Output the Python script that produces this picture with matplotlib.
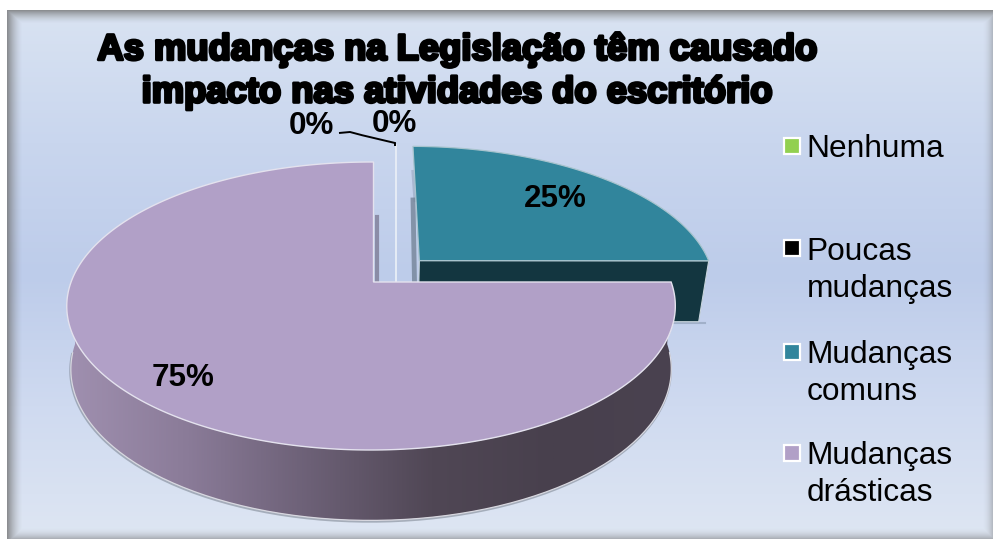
import numpy as np
import matplotlib
matplotlib.use("Agg")
import matplotlib.pyplot as plt
import matplotlib.patheffects as pe
from matplotlib.colors import LinearSegmentedColormap
from matplotlib.patches import Polygon, Rectangle, PathPatch
from matplotlib.path import Path

plt.rcParams["font.family"] = ["Liberation Sans", "DejaVu Sans"]

categories = ["Nenhuma", "Poucas\nmudanças", "Mudanças\ncomuns", "Mudanças\ndrásticas"]
values = [0, 0, 25, 75]
colors = ["#92D050", "#000000", "#31859C", "#B1A0C7"]
title = "As mudanças na Legislação têm causado\nimpacto nas atividades do escritório"

W, H = 993, 539
fig = plt.figure(figsize=(W / 100, H / 100), dpi=100)
ax = fig.add_axes([0, 0, 1, 1])
ax.set_xlim(0, W)
ax.set_ylim(H, 0)
ax.axis("off")

# fondo con degradado
bg = LinearSegmentedColormap.from_list("bg", ["#D9E3F2", "#C9D6EE", "#BDCCEA", "#CFDAF0", "#DEE6F3"])
FX0, FX1, FY0, FY1 = 7, 993, 10, 539
ax.imshow(np.linspace(0, 1, 256)[:, None], cmap=bg, aspect="auto", extent=(FX0, FX1, FY1, FY0), zorder=0)

# sombra interior del marco
xx, yy = np.meshgrid(np.arange(FX0, FX1) + 0.5, np.arange(FY0, FY1) + 0.5)
edge = np.maximum.reduce([
    np.clip(1 - (xx - FX0) / 16, 0, 1) ** 1.6 * 0.8,
    np.clip(1 - (yy - FY0) / 14, 0, 1) ** 1.6 * 0.8,
    np.clip(1 - (FX1 - xx) / 11, 0, 1) ** 2 * 0.4,
    np.clip(1 - (FY1 - yy) / 12, 0, 1) ** 2 * 0.5,
])
shade = np.zeros(edge.shape + (4,))
shade[..., :3] = 0.45
shade[..., 3] = edge
ax.imshow(shade, aspect="auto", extent=(FX0, FX1, FY1, FY0), zorder=1)
ax.set_xlim(0, W)
ax.set_ylim(H, 0)


# proyeccion del circulo del pastel a pixeles
def top_face(u, v):
    d = 1 + v / 6 + 0.008 * u
    return 373.5 + 300 * u / d, 282 - 140 * v / d


def base_face(u, v, bx=296):
    d = 1 + v / 6 + 0.008 * u
    return 373.5 + bx * u / d, 344 - 147 * v / d


def blue_base(u, v):
    return base_face(u, v, 291)


def arc(face, a0, a1, off=0.0, n=160):
    t = np.radians(np.linspace(a0, a1, n))
    x, y = face(off + np.cos(t), off + np.sin(t))
    return np.column_stack([x, y])


total = sum(values)
# angulos: empieza a las 12 y gira en sentido horario
a_start = 90
a_blue_end = a_start - 360 * (values[0] + values[1] + values[2]) / total
a_end = a_blue_end - 360 * values[3] / total
explode = 0.157

# porcion azul (separada)
apex_top = np.array(top_face(explode, explode))
apex_base = np.array(blue_base(explode, explode))
blue_rim = arc(top_face, a_start, a_blue_end, explode)
blue_rim_base = arc(blue_base, a_blue_end, a_start, explode)
ax.plot([413.5, 415.5], [172, 200], color="#8090A8", lw=3, alpha=0.4, zorder=2)
ax.plot([413, 414.5], [200, 282], color="#6F7F92", lw=3.5, alpha=0.75, zorder=2)
ax.plot([672, blue_rim_base[0, 0] + 6], [323, 323], color="#8090A8", lw=1.5, alpha=0.5, zorder=2)
ax.add_patch(Polygon(np.vstack([apex_top, blue_rim[-1], blue_rim_base[0], apex_base]), closed=True,
                     fc="#133640", ec="#C8D4DC", lw=0.8, zorder=3))
ax.add_patch(Polygon(np.vstack([apex_top[None], blue_rim]), closed=True, fc=colors[2], ec="#A8C4CE", lw=0.9, zorder=4))

# rebanadas de 0%
ax.plot([395.5, 395.5], [145, 282], color="#E6ECF6", lw=1.4, zorder=3)

# pared de la porcion lila con degradado
side = LinearSegmentedColormap.from_list("side", ["#A090B0", "#8A7B98", "#6C6076", "#504755", "#48404D", "#4A4250"])
im = ax.imshow(np.linspace(0, 1, 512)[None, :], cmap=side, aspect="auto", extent=(66, 676, 530, 280), zorder=5)
base_rim = arc(base_face, -180, 0)
side_poly = np.vstack([arc(top_face, 0, -180), base_rim])
clip = Polygon(side_poly, closed=True, transform=ax.transData, fc="none", ec="none")
ax.add_patch(clip)
im.set_clip_path(clip)
ax.set_xlim(0, W)
ax.set_ylim(H, 0)
# borde claro y sombra de la base
rim_low = base_rim[base_rim[:, 1] > 352]
ax.plot(rim_low[:, 0] - 0.5, rim_low[:, 1] + 1.2, color="#707884", lw=1.6, alpha=0.5, zorder=4)
ax.plot(rim_low[:, 0], rim_low[:, 1], color="#D8D8E0", lw=0.9, zorder=5)

# cara superior lila
ax.plot([376.5, 376.5], [217, 282], color="#75718A", lw=3, alpha=0.7, zorder=2)
top_pts = np.vstack([np.array(top_face(0, 0))[None], arc(top_face, a_blue_end, a_end, 0, 400)])
ax.add_patch(Polygon(top_pts, closed=True, fc=colors[3], ec="#E4E2EE", lw=1.0, zorder=6))

# etiquetas de porcentaje
lab_kw = dict(fontsize=22.6, fontweight="bold", color="black", ha="center", va="center", zorder=8)
ax.text(311, 126, f"{values[0]}%", **lab_kw)
ax.text(394, 124, f"{values[1]}%", **lab_kw)
ax.text(555, 199, f"{values[2]}%", **lab_kw)
ax.text(183, 378, f"{values[3]}%", **lab_kw)

# linea guia
guide = Path([(339, 133), (350, 132), (352, 133), (395, 143), (395, 146)],
             [Path.MOVETO, Path.LINETO, Path.CURVE3, Path.CURVE3, Path.LINETO])
ax.add_patch(PathPatch(guide, fc="none", ec="black", lw=1.4, zorder=8))

# titulo
t = ax.text(457, 71, title, fontsize=26.2, fontweight="bold", color="black", ha="center", va="center",
            linespacing=1.28, zorder=9)
t.set_path_effects([pe.withStroke(linewidth=2.2, foreground="black")])

# leyenda
leg_y = [149, 270.5, 373.5, 474.5]
sq_y = [146, 248, 352, 453]
for lab, col, y, sy in zip(categories, colors, leg_y, sq_y):
    ax.add_patch(Rectangle((784, sy - 8), 16, 16, fc=col, ec="white", lw=1.6, zorder=8))
    ax.text(806.5, y, lab, fontsize=22.8, color="black", ha="left", va="center", linespacing=1.29, zorder=8)

fig.savefig("out.png", dpi=100)
